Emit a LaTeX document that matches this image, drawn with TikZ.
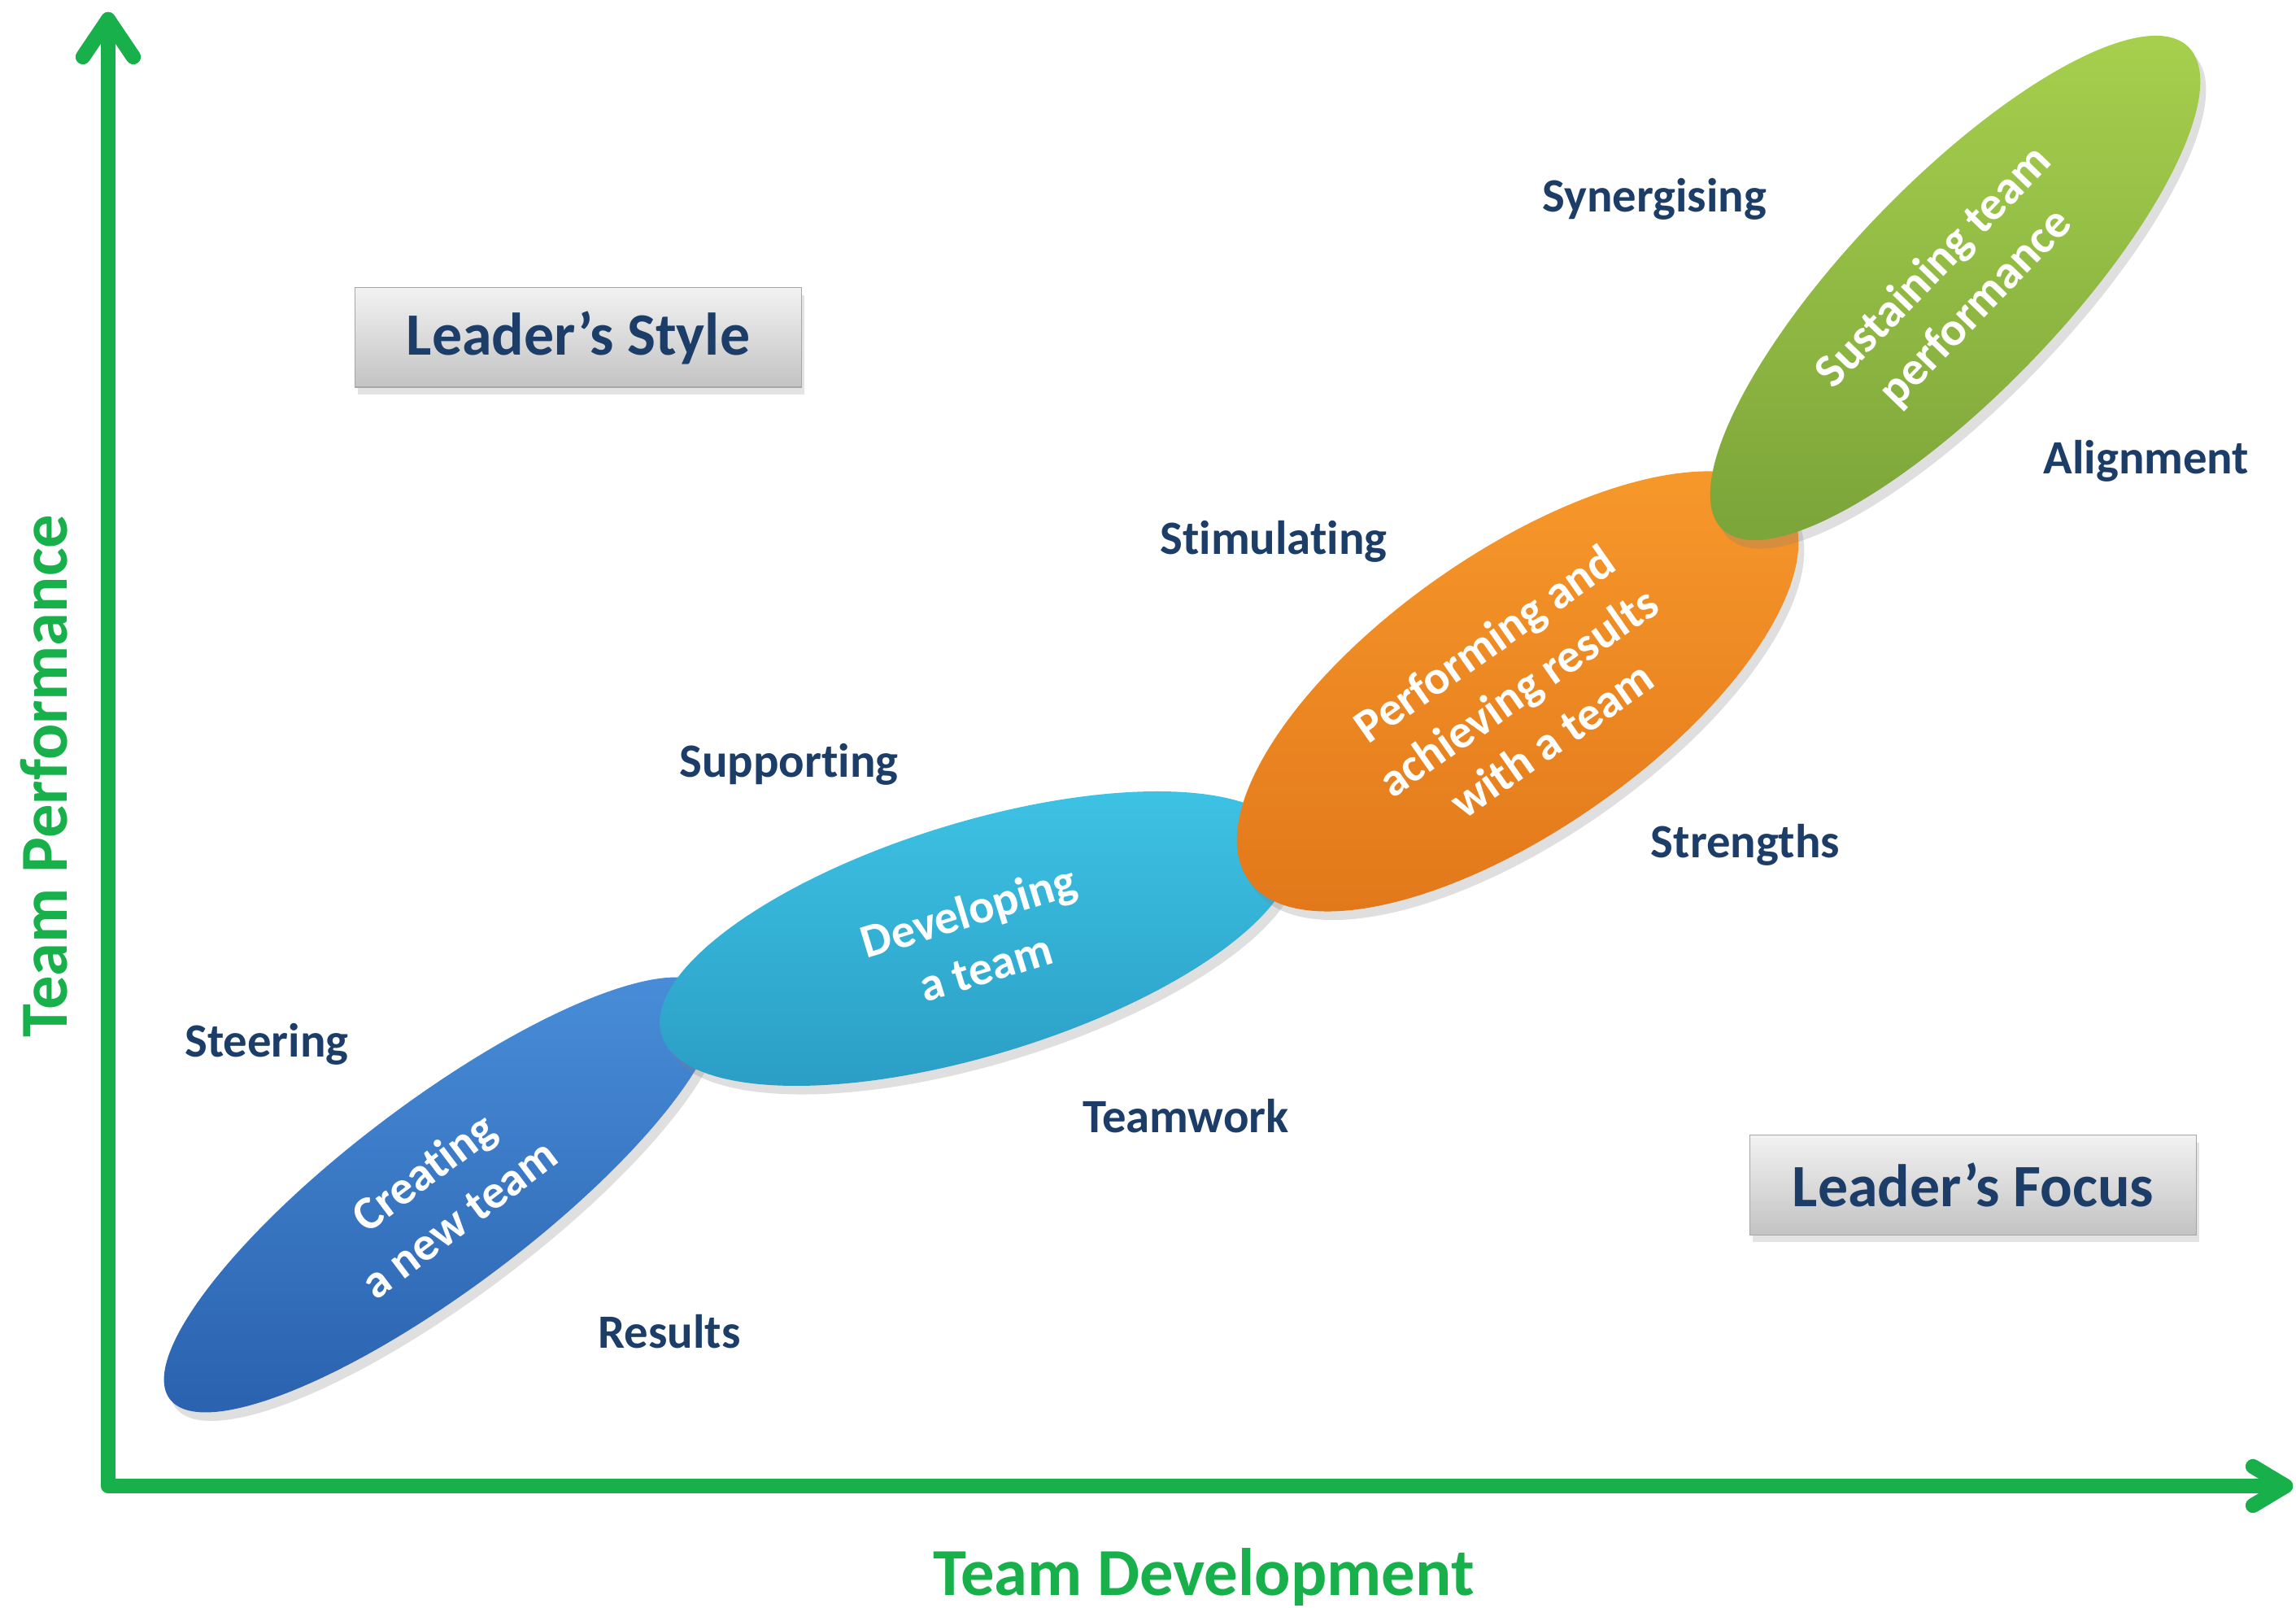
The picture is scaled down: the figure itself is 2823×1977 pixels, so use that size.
\documentclass[tikz,border=0pt]{standalone}
\usepackage{fontspec}
\setmainfont{Carlito}[Ligatures=NoCommon]
\usetikzlibrary{shapes.geometric,shadows}
\definecolor{navy}{HTML}{1D3D69}
\definecolor{axgreen}{HTML}{17B04B}
\definecolor{b1}{HTML}{4A8FDA}
\definecolor{b2}{HTML}{2B63B0}
\definecolor{c1}{HTML}{3EC4E6}
\definecolor{c2}{HTML}{2A9CC4}
\definecolor{o1}{HTML}{F89A2C}
\definecolor{o2}{HTML}{E2781A}
\definecolor{g1}{HTML}{A9D24F}
\definecolor{g2}{HTML}{7CA53A}
\definecolor{boxtop}{HTML}{F2F2F2}
\definecolor{boxbot}{HTML}{C3C3C3}
\begin{document}
\begin{tikzpicture}[x=0.01cm,y=-0.01cm,
  lbl/.style={font=\bfseries\fontsize{16.7}{20}\selectfont, text=navy, inner sep=0pt},
  axlbl/.style={font=\bfseries\fontsize{23.5}{28}\selectfont, text=axgreen, inner sep=0pt},
  stage/.style={ellipse, inner sep=0pt, text=white, align=center,
    font=\bfseries\fontsize{16.6}{20.5}\selectfont,
    drop shadow={opacity=0.25, shadow xshift=2pt, shadow yshift=-3pt}},
  box/.style={rectangle, inner sep=0pt, minimum width=5.48cm, minimum height=1.22cm,
    top color=boxtop, bottom color=boxbot, draw=boxbot!85!black, line width=0.3pt,
    text=navy, font=\bfseries\fontsize{21}{25}\selectfont,
    drop shadow={opacity=0.22, shadow xshift=1pt, shadow yshift=-2.5pt}},
  axis/.style={line width=5.2pt, draw=axgreen, line cap=round, line join=round},
  axshadow/.style={line width=5.2pt, draw=black, opacity=0.12, line cap=round, line join=round}
]
\useasboundingbox (0,0) rectangle (2823,1977);

% axes
\coordinate (O) at (133,1827);
\coordinate (ytip) at (133,24);
\coordinate (ywl) at (102,70);
\coordinate (ywr) at (164,70);
\coordinate (xtip) at (2810,1827);
\coordinate (xwu) at (2770,1803);
\coordinate (xwd) at (2770,1851);
\begin{scope}[xshift=1.5pt,yshift=-1.8pt]
  \draw[axshadow] (ytip) -- (O) -- (xtip);
  \draw[axshadow] (ywl) -- (ytip) -- (ywr);
  \draw[axshadow] (xwu) -- (xtip) -- (xwd);
\end{scope}
\draw[axis] (ytip) -- (O) -- (xtip);
\draw[axis] (ywl) -- (ytip) -- (ywr);
\draw[axis] (xwu) -- (xtip) -- (xwd);

\node[axlbl, rotate=90] (yl) at (54,954) {Team Performance};
\node[axlbl] (xl) at (1480,1939) {Team Development};

% stages
\node[stage, rotate=37, minimum width=8.34cm, minimum height=2.3cm, top color=b1, bottom color=b2] (s1) at (542,1469) {Creating\\a new team};
\node[stage, rotate=17, minimum width=8.1cm, minimum height=2.86cm, top color=c1, bottom color=c2] (s2) at (1201,1154) {Developing\\a team};
\node[stage, rotate=35, minimum width=8.08cm, minimum height=3.4cm, top color=o1, bottom color=o2] (s3) at (1866,850) {Performing and\\achieving results\\with a team};
\node[stage, rotate=46, minimum width=8.24cm, minimum height=2.6cm, top color=g1, bottom color=g2] (s4) at (2404,354) {Sustaining team\\performance};

% boxes
\node[box] (ls) at (711,415) {Leader’s Style};
\node[box] (lf) at (2426,1457) {Leader’s Focus};

% labels
\node[lbl] (syn) at (2034,245) {Synergising};
\node[lbl] (ali) at (2639,567) {Alignment};
\node[lbl] (sti) at (1566,666) {Stimulating};
\node[lbl] (sup) at (970,940) {Supporting};
\node[lbl] (str) at (2146,1039) {Strengths};
\node[lbl] (ste) at (328,1284) {Steering};
\node[lbl] (tea) at (1458,1372) {Teamwork};
\node[lbl] (res) at (823,1637) {Results};
\end{tikzpicture}
\end{document}
